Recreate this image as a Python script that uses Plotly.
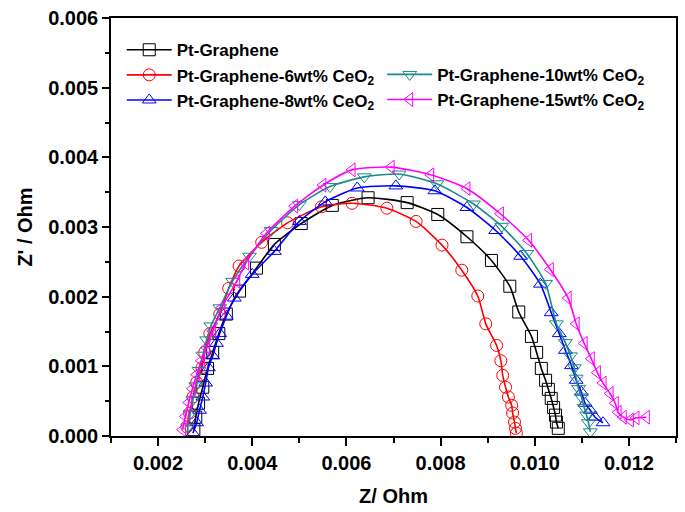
import plotly.graph_objects as go

# ---- data ----
pg_x = [0.00276,0.0028,0.00286,0.00295,0.00305,0.00316,0.00329,0.00345,0.00373,0.00409,0.00447,0.00504,0.0057,0.00646,0.00729,0.00794,0.00856,0.00908,0.00947,0.00966,0.00993,0.01004,0.01014,0.01023,0.01029,0.01035,0.0104,0.01044,0.01046,0.0105]
pg_y = [0.00009,0.00027,0.00047,0.0007,0.00097,0.0012,0.00147,0.00175,0.00208,0.00241,0.00275,0.00305,0.00331,0.00342,0.00335,0.00318,0.00286,0.00252,0.00215,0.00178,0.00143,0.0012,0.00097,0.0008,0.00067,0.00054,0.00041,0.0003,0.0002,0.00011]

c6_x = [0.00261,0.00267,0.00274,0.00282,0.00293,0.00299,0.0031,0.00331,0.0035,0.00372,0.0042,0.00475,0.00547,0.00612,0.00686,0.00748,0.00803,0.00845,0.00879,0.00896,0.00919,0.00928,0.00932,0.00938,0.00944,0.00951,0.00953,0.00957,0.00959,0.00961]
c6_y = [0.00013,0.00033,0.00056,0.00077,0.00098,0.0012,0.00147,0.00175,0.00212,0.00244,0.00278,0.00306,0.00329,0.00334,0.00327,0.00308,0.00274,0.00238,0.00201,0.00161,0.0013,0.00108,0.00087,0.0007,0.00056,0.00044,0.00033,0.0002,0.00011,0.00004]

c8_x = [0.00274,0.00282,0.00288,0.00295,0.00301,0.00307,0.00316,0.00324,0.00331,0.00345,0.00362,0.004,0.00447,0.005,0.00555,0.00623,0.00705,0.00788,0.00856,0.00917,0.0097,0.01012,0.01035,0.01052,0.01065,0.01078,0.01088,0.01099,0.01107,0.01118,0.01128,0.01145]
c8_y = [0.00004,0.00019,0.00037,0.00056,0.00076,0.00098,0.00115,0.00133,0.00147,0.00172,0.00198,0.00232,0.00265,0.00308,0.00336,0.00356,0.00359,0.00352,0.00328,0.00295,0.00258,0.00218,0.00177,0.00147,0.00123,0.00101,0.0008,0.00063,0.00047,0.00037,0.00027,0.00019]

c10_x = [0.00263,0.00268,0.00274,0.0028,0.00287,0.00295,0.00303,0.00312,0.00331,0.00358,0.00394,0.0044,0.005,0.00565,0.00638,0.00712,0.00792,0.0087,0.0093,0.00983,0.01023,0.01046,0.01065,0.01076,0.01084,0.01088,0.01093,0.01099,0.01105,0.0111,0.01114,0.01118]
c10_y = [0.00013,0.00032,0.00052,0.00072,0.00094,0.00116,0.00138,0.00158,0.00184,0.00222,0.00258,0.00295,0.00332,0.00358,0.00372,0.00376,0.00362,0.00333,0.00301,0.00262,0.00219,0.00161,0.00134,0.00115,0.00098,0.00083,0.00068,0.00056,0.00041,0.0003,0.00019,0.00006]

c15_x = [0.00252,0.00258,0.00265,0.00273,0.00282,0.00292,0.00303,0.00316,0.00335,0.00367,0.00386,0.0043,0.0049,0.0055,0.00612,0.00695,0.00779,0.00856,0.00927,0.00987,0.01033,0.01071,0.01088,0.01105,0.0112,0.01133,0.01145,0.0116,0.01171,0.01177,0.01188,0.01203,0.01215,0.01237]
c15_y = [0.00009,0.00028,0.00048,0.00068,0.00088,0.00108,0.00127,0.00151,0.00184,0.00222,0.00248,0.00291,0.0033,0.0036,0.00382,0.00386,0.00375,0.00355,0.00319,0.00281,0.00239,0.00198,0.00161,0.00133,0.00111,0.00091,0.00076,0.00061,0.00047,0.00034,0.00027,0.00023,0.00026,0.00027]

series_names = ["Pt-Graphene",
                "Pt-Graphene-6wt% CeO<sub>2</sub>",
                "Pt-Graphene-8wt% CeO<sub>2</sub>",
                "Pt-Graphene-10wt% CeO<sub>2</sub>",
                "Pt-Graphene-15wt% CeO<sub>2</sub>"]
x_ticks = [0.002, 0.004, 0.006, 0.008, 0.010, 0.012]
y_ticks = [0.000, 0.001, 0.002, 0.003, 0.004, 0.005, 0.006]

series = [
    (pg_x, pg_y, "black", "square-open", "legend"),
    (c6_x, c6_y, "#FF0000", "circle-open", "legend"),
    (c8_x, c8_y, "#0000FF", "triangle-up-open", "legend"),
    (c10_x, c10_y, "#1A8A8A", "triangle-down-open", "legend2"),
    (c15_x, c15_y, "#FF00FF", "triangle-left-open", "legend2"),
]

FONT = "Liberation Sans, Arial, sans-serif"
fig = go.Figure()
for (xs, ys, col, sym, lg), name in zip(series, series_names):
    fig.add_trace(go.Scatter(
        x=xs, y=ys, name=name, mode="lines+markers", legend=lg,
        line=dict(color=col, width=1.6, shape="spline", smoothing=0.6),
        marker=dict(symbol=sym, size=12, color=col, line=dict(width=1, color=col)),
    ))

fig.update_layout(
    width=685, height=512,
    margin=dict(l=111, r=7, t=15, b=76),
    paper_bgcolor="white", plot_bgcolor="white",
    font=dict(family=FONT, size=20, color="black", weight="bold"),
    legend=dict(x=0.019, y=0.966, xanchor="left", yanchor="top",
                bgcolor="rgba(0,0,0,0)", font=dict(size=17, family=FONT, weight="bold"),
                itemwidth=45, tracegroupgap=0),
    legend2=dict(x=0.48, y=0.907, xanchor="left", yanchor="top",
                 bgcolor="rgba(0,0,0,0)", font=dict(size=17, family=FONT, weight="bold"),
                 itemwidth=45, tracegroupgap=0),
)
fig.update_xaxes(
    range=[0.001, 0.013], tickvals=x_ticks, ticktext=[f"{v:.3f}" for v in x_ticks],
    showgrid=False, zeroline=False, showline=True, linecolor="black", linewidth=1.5,
    mirror=True, ticks="outside", ticklen=8, tickwidth=1.5, tickcolor="black",
    ticklabeloverflow="allow",
    minor=dict(dtick=0.001, tick0=0.001, ticks="outside", ticklen=5, tickwidth=1.5, tickcolor="black"),
    title=dict(text="Z/ Ohm", font=dict(size=20, family=FONT, weight="bold"), standoff=16),
)
fig.update_yaxes(
    range=[0, 0.006], tickvals=y_ticks, ticktext=[f"{v:.3f}" for v in y_ticks],
    showgrid=False, zeroline=False, showline=True, linecolor="black", linewidth=1.5,
    mirror=True, ticks="outside", ticklen=7, tickwidth=1.5, tickcolor="black",
    ticklabeloverflow="allow",
    minor=dict(dtick=0.0005, tick0=0, ticks="outside", ticklen=4, tickwidth=1.5, tickcolor="black"),
    title=dict(text="Z' / Ohm", font=dict(size=20, family=FONT, weight="bold"), standoff=10),
)
fig.write_html("out.html", config={"displayModeBar": False},
               post_script="document.body.style.margin='0';document.documentElement.style.overflow='hidden';")
